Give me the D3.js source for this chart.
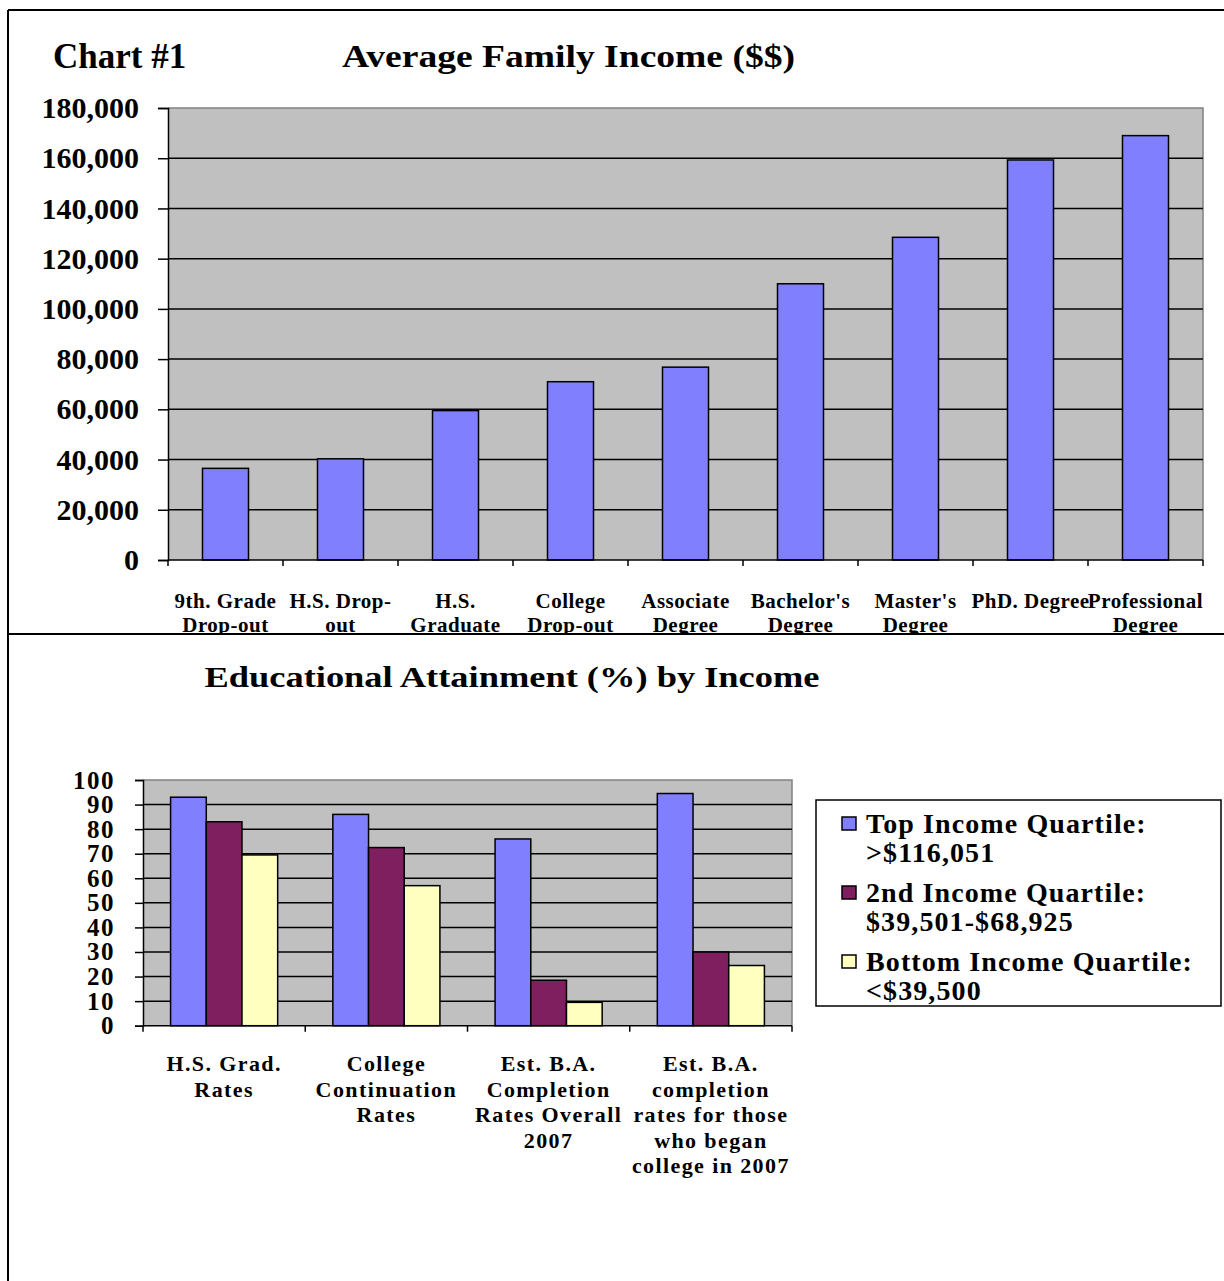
<!DOCTYPE html>
<html><head><meta charset="utf-8">
<script src="https://cdn.jsdelivr.net/npm/d3@7"></script>
<style>
body{margin:0;background:#fff;}
svg text{font-family:"Liberation Serif","Times New Roman",serif;font-weight:bold;fill:#000;}
</style></head>
<body><svg id="c" width="1224" height="1281"></svg>
<script>
// ---------- Data: Chart #1 ----------
const incomeCategories = [
  ["9th. Grade","Drop-out"],["H.S. Drop-","out"],["H.S.","Graduate"],["College","Drop-out"],
  ["Associate","Degree"],["Bachelor's","Degree"],["Master's","Degree"],["PhD. Degree"],["Professional","Degree"]
];
const incomeValues = [36500, 40300, 59500, 71000, 76800, 110000, 128500, 159300, 169000];
const incomeTicks = [0,20000,40000,60000,80000,100000,120000,140000,160000,180000];

// ---------- Data: Educational Attainment ----------
const eduCategories = [
  ["H.S. Grad.","Rates"],
  ["College","Continuation","Rates"],
  ["Est. B.A.","Completion","Rates Overall","2007"],
  ["Est. B.A.","completion","rates for those","who began","college in 2007"]
];
const seriesNames = ["Top Income Quartile:|>$116,051","2nd Income Quartile:|$39,501-$68,925","Bottom Income Quartile:|<$39,500"];
const topQuartile = [93, 86, 76, 94.5];
const secondQuartile = [83, 72.5, 18.5, 30];
const bottomQuartile = [69.5, 57, 9.5, 24.5];
const eduTicks = [0,10,20,30,40,50,60,70,80,90,100];
const seriesColors = ["#8080FF","#7F1F5F","#FFFFC0"];

const svg = d3.select("#c");

svg.append("clipPath").attr("id","topclip").append("rect").attr("x",0).attr("y",0).attr("width",1224).attr("height",633);

// ---------- Chart 1 ----------
const g1 = svg.append("g").attr("clip-path","url(#topclip)");
const x1 = d3.scaleBand().domain(d3.range(incomeCategories.length)).range([168,1203]).padding(0);
const y1 = d3.scaleLinear().domain([0,180000]).range([560,108]);

g1.append("rect").attr("x",168).attr("y",y1(180000)).attr("width",1203-168).attr("height",y1(0)-y1(180000)).attr("fill","#C0C0C0");
g1.append("path").attr("d",`M168,${y1(180000)}H1203V${y1(0)}`).attr("fill","none").attr("stroke","#808080").attr("stroke-width",1.5);
g1.selectAll(".grid1").data(incomeTicks.filter(d=>d>0&&d<180000)).join("line")
  .attr("x1",168).attr("x2",1203).attr("y1",d=>y1(d)).attr("y2",d=>y1(d)).attr("stroke","#000").attr("stroke-width",1.5);

const bw1 = x1.bandwidth()*0.4;
g1.selectAll(".bar1").data(incomeValues).join("rect")
  .attr("x",(d,i)=>x1(i)+(x1.bandwidth()-bw1)/2).attr("width",bw1)
  .attr("y",d=>y1(d)).attr("height",d=>y1(0)-y1(d))
  .attr("fill","#8080FF").attr("stroke","#000").attr("stroke-width",1.5);

const ya1 = g1.append("g").attr("transform","translate(168,0)")
  .call(d3.axisLeft(y1).tickValues(incomeTicks).tickSize(10).tickPadding(19).tickFormat(d3.format(",")));
ya1.select(".domain").attr("stroke","#000").attr("stroke-width",1.5);
ya1.selectAll(".tick line").attr("stroke","#000").attr("stroke-width",1.5);
ya1.selectAll(".tick text").attr("font-size",30).attr("font-family","Liberation Serif").attr("font-weight","bold");

g1.append("line").attr("x1",168).attr("x2",1203).attr("y1",y1(0)).attr("y2",y1(0)).attr("stroke","#000").attr("stroke-width",1.5);
const xb1 = d3.range(incomeCategories.length+1).map(i=> i<incomeCategories.length ? x1(i) : x1.range()[1]);
g1.selectAll(".xt1").data(xb1).join("line").attr("x1",d=>d).attr("x2",d=>d).attr("y1",y1(0)).attr("y2",y1(0)+6).attr("stroke","#000").attr("stroke-width",1.5);

g1.selectAll(".xl1").data(incomeCategories).join("text")
  .attr("text-anchor","middle").attr("font-size",21).attr("letter-spacing",0.5)
  .each(function(lines,i){
    const t=d3.select(this);
    lines.forEach((l,j)=>t.append("tspan").attr("x",x1(i)+x1.bandwidth()/2).attr("y",608+j*24).text(l));
  });

svg.append("text").attr("x",53).attr("y",68).attr("font-size",35).text("Chart #1");
svg.append("text").attr("x",342).attr("y",67).attr("font-size",32).attr("textLength",453).attr("lengthAdjust","spacingAndGlyphs").text("Average Family Income ($$)");

// ---------- Chart 2 ----------
svg.append("text").attr("x",512).attr("y",687).attr("text-anchor","middle").attr("font-size",30).attr("textLength",615).attr("lengthAdjust","spacingAndGlyphs").text("Educational Attainment (%) by Income");

const g2 = svg.append("g");
const x2 = d3.scaleBand().domain(d3.range(eduCategories.length)).range([143,792]).padding(0);
const y2 = d3.scaleLinear().domain([0,100]).range([1025.7,780]);
const seriesData = [topQuartile, secondQuartile, bottomQuartile];
const groupW = x2.bandwidth()*0.66;
const xs = d3.scaleBand().domain(d3.range(3)).range([0,groupW]).padding(0);

g2.append("rect").attr("x",143).attr("y",y2(100)).attr("width",792-143).attr("height",y2(0)-y2(100)).attr("fill","#C0C0C0");
g2.append("path").attr("d",`M143,${y2(100)}H792V${y2(0)}`).attr("fill","none").attr("stroke","#808080").attr("stroke-width",1.5);
g2.selectAll(".grid2").data(eduTicks.filter(d=>d>0&&d<100)).join("line")
  .attr("x1",143).attr("x2",792).attr("y1",d=>y2(d)).attr("y2",d=>y2(d)).attr("stroke","#000").attr("stroke-width",1.5);

seriesData.forEach((vals,s)=>{
  g2.selectAll(".bar2s"+s).data(vals).join("rect")
    .attr("x",(d,i)=>x2(i)+(x2.bandwidth()-groupW)/2+xs(s)).attr("width",xs.bandwidth())
    .attr("y",d=>y2(d)).attr("height",d=>y2(0)-y2(d))
    .attr("fill",seriesColors[s]).attr("stroke","#000").attr("stroke-width",1.5);
});

const ya2 = g2.append("g").attr("transform","translate(143,0)")
  .call(d3.axisLeft(y2).tickValues(eduTicks).tickSize(8).tickPadding(20));
ya2.select(".domain").attr("stroke","#000").attr("stroke-width",1.5);
ya2.selectAll(".tick line").attr("stroke","#000").attr("stroke-width",1.5);
ya2.selectAll(".tick text").attr("font-size",25).attr("letter-spacing",1.5).attr("font-family","Liberation Serif").attr("font-weight","bold");

g2.append("line").attr("x1",143).attr("x2",792).attr("y1",y2(0)).attr("y2",y2(0)).attr("stroke","#000").attr("stroke-width",1.5);
const xb2 = d3.range(eduCategories.length+1).map(i=> i<eduCategories.length ? x2(i) : x2.range()[1]);
g2.selectAll(".xt2").data(xb2).join("line").attr("x1",d=>d).attr("x2",d=>d).attr("y1",y2(0)).attr("y2",y2(0)+6).attr("stroke","#000").attr("stroke-width",1.5);

g2.selectAll(".xl2").data(eduCategories).join("text")
  .attr("text-anchor","middle").attr("font-size",22).attr("letter-spacing",1.4)
  .each(function(lines,i){
    const t=d3.select(this);
    lines.forEach((l,j)=>t.append("tspan").attr("x",x2(i)+x2.bandwidth()/2).attr("y",1071+j*25.5).text(l));
  });

// Legend
const lg = svg.append("g");
lg.append("rect").attr("x",816).attr("y",800).attr("width",405).attr("height",206).attr("fill","#fff").attr("stroke","#000").attr("stroke-width",1.5);
seriesNames.forEach((nm,s)=>{
  const yb = 833 + s*69;
  lg.append("rect").attr("x",842).attr("y",yb-16).attr("width",14).attr("height",13).attr("fill",seriesColors[s]).attr("stroke","#000").attr("stroke-width",1.5);
  const parts = nm.split("|");
  const t = lg.append("text").attr("font-size",28).attr("letter-spacing",1.1);
  parts.forEach((p,j)=>t.append("tspan").attr("x",866).attr("y",yb+j*29).text(p));
});

// Borders
svg.append("line").attr("x1",8).attr("x2",1224).attr("y1",10).attr("y2",10).attr("stroke","#000").attr("stroke-width",2);
svg.append("line").attr("x1",8).attr("x2",8).attr("y1",10).attr("y2",1281).attr("stroke","#000").attr("stroke-width",2);
svg.append("line").attr("x1",8).attr("x2",1224).attr("y1",634).attr("y2",634).attr("stroke","#000").attr("stroke-width",2);
</script></body></html>
